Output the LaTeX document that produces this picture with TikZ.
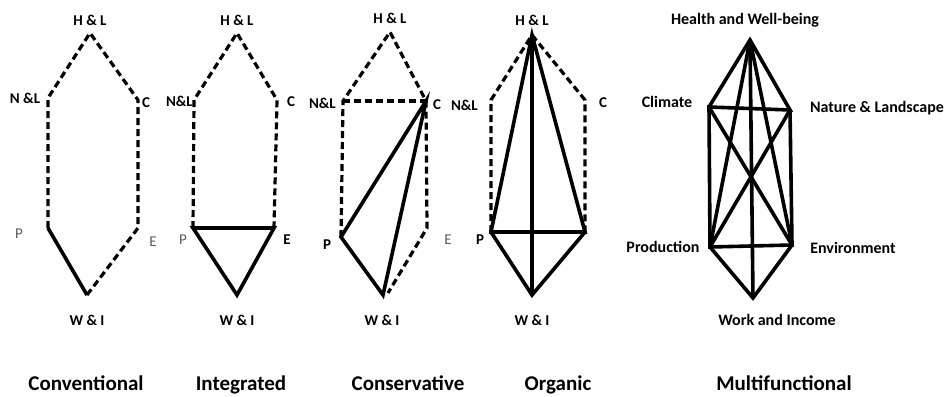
\documentclass[tikz,border=0pt]{standalone}
\usepackage{fontspec}
\setmainfont{Carlito}
\begin{document}
\begin{tikzpicture}[x=1pt,y=-1pt,
  edge/.style={line width=3.6pt,line join=miter,line cap=butt},
  dedge/.style={line width=3.2pt,dash pattern=on 7pt off 4pt,line cap=butt},
  lab/.style={font=\fontsize{15}{18}\selectfont\bfseries,inner sep=0pt},
  glab/.style={font=\fontsize{15}{18}\selectfont,text=black!65,inner sep=0pt},
  mlab/.style={font=\fontsize{16}{19}\selectfont\bfseries,inner sep=0pt},
  title/.style={font=\fontsize{21}{25}\selectfont\bfseries,inner sep=0pt,anchor=base}]
\useasboundingbox (0,0) rectangle (952,396);
% ---------- Conventional ----------
\coordinate (aH) at (90,33);
\coordinate (aN) at (48,98);
\coordinate (aC) at (138,100);
\coordinate (aP) at (48,228);
\coordinate (aE) at (138,228);
\coordinate (aW) at (87,295);
\draw[dedge] (aP) -- (aN) -- (aH) -- (aC) -- (aE) -- (aW);
\draw[edge] (aP) -- (aW);
\node[lab] (aHl) at (90,20) {H \& L};
\node[lab] (aNl) at (25,98) {N \&L};
\node[lab] (aCl) at (146,103) {C};
\node[glab] (aPl) at (19,234) {P};
\node[glab] (aEl) at (153,242) {E};
\node[lab] (aWl) at (87,320) {W \& I};
% ---------- Integrated ----------
\coordinate (bH) at (237,33);
\coordinate (bN) at (194,100);
\coordinate (bC) at (277,100);
\coordinate (bP) at (193,228);
\coordinate (bE) at (274,228);
\coordinate (bW) at (237,295);
\draw[dedge] (bP) -- (bN) -- (bH) -- (bC) -- (bE);
\draw[edge] (bP) -- (bE) -- (bW) -- cycle;
\node[lab] (bHl) at (237,20) {H \& L};
\node[lab,anchor=east] (bNl) at (193,101) {N\&L};
\node[lab,anchor=west] (bCl) at (287,102) {C};
\node[glab] (bPl) at (183,240) {P};
\node[lab] (bEl) at (287,240) {E};
\node[lab] (bWl) at (237,320) {W \& I};
% ---------- Conservative ----------
\coordinate (cH) at (390,32);
\coordinate (cN) at (343,101);
\coordinate (cC) at (426,101);
\coordinate (cP) at (341,237);
\coordinate (cE) at (427,228);
\coordinate (cW) at (383,295);
\coordinate (cW2) at (388,293);
\draw[dedge] (cP) -- (cN) -- (cH) -- (cC) -- (cE) -- (cW2);
\draw[dedge] (cN) -- (cC);
\draw[edge] (cC) -- (cP) -- (cW) -- cycle;
\node[lab] (cHl) at (390,18) {H \& L};
\node[lab,anchor=east] (cNl) at (336,103) {N\&L};
\node[lab,anchor=west] (cCl) at (433,105) {C};
\node[lab] (cPl) at (327,245) {P};
\node[glab] (cEl) at (448,240) {E};
\node[lab] (cWl) at (382,320) {W \& I};
% ---------- Organic ----------
\coordinate (dH) at (532,35);
\coordinate (dN) at (491,100);
\coordinate (dC) at (585,100);
\coordinate (dP) at (491,232);
\coordinate (dE) at (585,232);
\coordinate (dW) at (532,295);
\draw[dedge] (dP) -- (dN) -- (dH) -- (dC) -- (dE);
\draw[edge] (dP) -- (dH) -- (dE) -- cycle;
\draw[edge] (dP) -- (dW) -- (dE);
\draw[edge] (dH) -- (dW);
\node[lab] (dHl) at (532,20) {H \& L};
\node[lab,anchor=east] (dNl) at (478,105) {N\&L};
\node[lab] (dCl) at (603,103) {C};
\node[lab] (dPl) at (480,240) {P};
\node[lab] (dWl) at (532,320) {W \& I};
% ---------- Multifunctional ----------
\coordinate (eH) at (750,40);
\coordinate (eC) at (709,107);
\coordinate (eN) at (790,110);
\coordinate (eP) at (710,247);
\coordinate (eE) at (792,245);
\coordinate (eW) at (753,298);
\draw[edge] (eC) -- (eH) -- (eN) -- (eC) -- (eP) -- (eE) -- (eN);
\draw[edge] (eP) -- (eW) -- (eE);
\draw[edge] (eH) -- (eW);
\draw[edge] (eH) -- (eP);
\draw[edge] (eH) -- (eE);
\draw[edge] (eC) -- (eE);
\draw[edge] (eN) -- (eP);
\node[mlab] (eHl) at (745,20) {Health and Well-being};
\node[mlab] (eCl) at (667,102) {Climate};
\node[mlab] (eNl) at (877,108) {Nature \& Landscape};
\node[mlab] (ePl) at (663,247) {Production};
\node[mlab] (eEl) at (853,248) {Environment};
\node[mlab] (eWl) at (777,320) {Work and Income};
% ---------- titles ----------
\node[title] (t1) at (86,390) {Conventional};
\node[title] (t2) at (241,390) {Integrated};
\node[title] (t3) at (408,390) {Conservative};
\node[title] (t4) at (558,390) {Organic};
\node[title] (t5) at (784,390) {Multifunctional};
\end{tikzpicture}
\end{document}
